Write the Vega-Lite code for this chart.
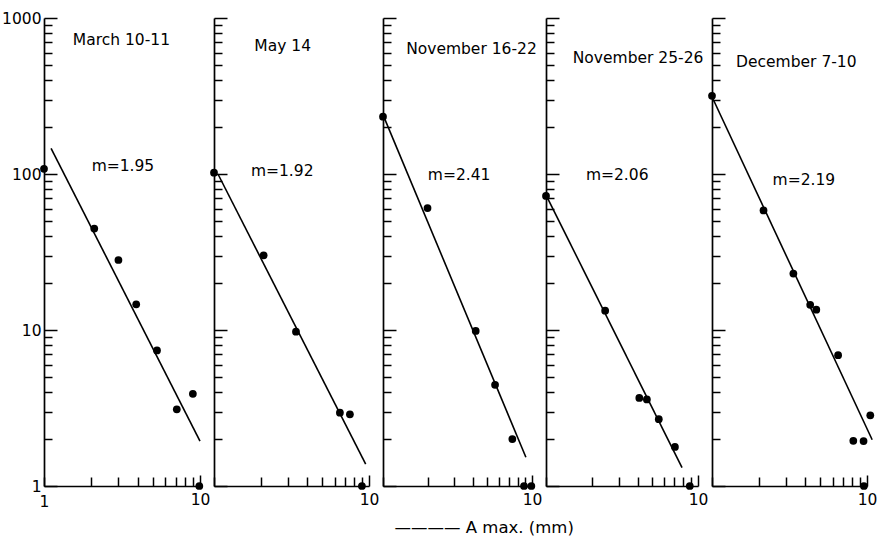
{
  "$schema": "https://vega.github.io/schema/vega-lite/v6.json",
  "background": "white",
  "padding": {"left": 1, "top": 11, "right": 5, "bottom": 6},
  "config": {
    "view": {"stroke": null},
    "font": "DejaVu Sans",
    "axis": {
      "domainColor": "black", "domainWidth": 1.7,
      "tickColor": "black", "tickWidth": 1.5,
      "grid": false,
      "labelFont": "DejaVu Sans", "labelFontSize": 15.5, "labelColor": "black",
      "labelFlush": false, "labelOverlap": false
    },
    "title": {"font": "DejaVu Sans", "fontSize": 16.5, "fontWeight": "normal", "color": "black"}
  },
  "title": {"text": "———— A max. (mm)", "orient": "bottom", "anchor": "middle", "dx": 45, "offset": 10},
  "spacing": 14,
  "bounds": "flush",
  "datasets": {
    "points": [
      {"panel": 1, "x": 1.0, "y": 108}, {"panel": 1, "x": 2.1, "y": 44.7}, {"panel": 1, "x": 3.0, "y": 28.1},
      {"panel": 1, "x": 3.9, "y": 14.6}, {"panel": 1, "x": 5.3, "y": 7.4}, {"panel": 1, "x": 7.1, "y": 3.1},
      {"panel": 1, "x": 9.0, "y": 3.9}, {"panel": 1, "x": 9.9, "y": 1},
      {"panel": 2, "x": 1.0, "y": 102}, {"panel": 2, "x": 2.09, "y": 30.1}, {"panel": 2, "x": 3.38, "y": 9.75},
      {"panel": 2, "x": 6.49, "y": 2.95}, {"panel": 2, "x": 7.53, "y": 2.88}, {"panel": 2, "x": 9.0, "y": 1},
      {"panel": 3, "x": 1.0, "y": 233}, {"panel": 3, "x": 1.99, "y": 60.5}, {"panel": 3, "x": 4.19, "y": 9.87},
      {"panel": 3, "x": 5.65, "y": 4.45}, {"panel": 3, "x": 7.38, "y": 2.0}, {"panel": 3, "x": 8.84, "y": 1},
      {"panel": 3, "x": 9.9, "y": 1},
      {"panel": 4, "x": 1.0, "y": 72.4}, {"panel": 4, "x": 2.45, "y": 13.3}, {"panel": 4, "x": 4.11, "y": 3.67},
      {"panel": 4, "x": 4.61, "y": 3.59}, {"panel": 4, "x": 5.52, "y": 2.68}, {"panel": 4, "x": 7.05, "y": 1.78},
      {"panel": 4, "x": 8.83, "y": 1},
      {"panel": 5, "x": 1.0, "y": 317}, {"panel": 5, "x": 2.15, "y": 58.4}, {"panel": 5, "x": 3.35, "y": 23.0},
      {"panel": 5, "x": 4.3, "y": 14.5}, {"panel": 5, "x": 4.71, "y": 13.5}, {"panel": 5, "x": 6.51, "y": 6.89},
      {"panel": 5, "x": 10.5, "y": 2.84}, {"panel": 5, "x": 8.16, "y": 1.95}, {"panel": 5, "x": 9.5, "y": 1.94},
      {"panel": 5, "x": 9.55, "y": 1}
    ],
    "lines": [
      {"panel": 1, "x": 1.11, "y": 146}, {"panel": 1, "x": 10.0, "y": 1.94},
      {"panel": 2, "x": 1.06, "y": 100}, {"panel": 2, "x": 9.52, "y": 1.38},
      {"panel": 3, "x": 1.03, "y": 224}, {"panel": 3, "x": 9.1, "y": 1.53},
      {"panel": 4, "x": 1.02, "y": 70.6}, {"panel": 4, "x": 7.85, "y": 1.31},
      {"panel": 5, "x": 1.01, "y": 306}, {"panel": 5, "x": 10.8, "y": 1.98}
    ],
    "labels": [
      {"panel": 1, "x": 1.53, "y": 718, "label": "March 10-11"},
      {"panel": 1, "x": 2.02, "y": 112, "label": "m=1.95"},
      {"panel": 2, "x": 1.82, "y": 657, "label": "May 14"},
      {"panel": 2, "x": 1.73, "y": 105, "label": "m=1.92"},
      {"panel": 3, "x": 1.43, "y": 629, "label": "November 16-22"},
      {"panel": 3, "x": 2.0, "y": 98, "label": "m=2.41"},
      {"panel": 4, "x": 1.5, "y": 557, "label": "November 25-26"},
      {"panel": 4, "x": 1.83, "y": 98, "label": "m=2.06"},
      {"panel": 5, "x": 1.43, "y": 521, "label": "December 7-10"},
      {"panel": 5, "x": 2.46, "y": 92, "label": "m=2.19"}
    ]
  },
  "hconcat": [
    {
      "width": 156, "height": 468,
      "encoding": {
        "x": {"field": "x", "type": "quantitative", "scale": {"type": "log", "domain": [1, 10], "nice": false},
          "axis": {"title": null, "values": [1,2,3,4,5,6,7,8,9,10],
            "labelExpr": "(datum.value == 1 || datum.value == 10) ? format(datum.value, 'd') : ''",
            "tickSize": {"condition": {"test": "datum.value == 10", "value": -11}, "value": -9},
            "labelPadding": 17}},
        "y": {"field": "y", "type": "quantitative", "scale": {"type": "log", "domain": [1, 1000], "nice": false},
          "axis": {"title": null, "values": [1,2,3,4,5,6,7,8,9,10,20,30,40,50,60,70,80,90,100,200,300,400,500,600,700,800,900,1000],
            "labelExpr": "(datum.value == 1 || datum.value == 10 || datum.value == 100 || datum.value == 1000) ? format(datum.value, 'd') : ''",
            "tickSize": {"condition": {"test": "datum.value == 1 || datum.value == 10 || datum.value == 100 || datum.value == 1000", "value": -13}, "value": -8},
            "labelPadding": 16}}
      },
      "layer": [
        {"data": {"name": "lines"}, "transform": [{"filter": "datum.panel == 1"}], "mark": {"type": "line", "color": "black", "strokeWidth": 1.6}},
        {"data": {"name": "points"}, "transform": [{"filter": "datum.panel == 1"}], "mark": {"type": "circle", "color": "black", "opacity": 1, "size": 60}},
        {"data": {"name": "labels"}, "transform": [{"filter": "datum.panel == 1"}], "mark": {"type": "text", "align": "left", "baseline": "middle", "fontSize": 15.5, "color": "black"}, "encoding": {"text": {"field": "label"}}}
      ]
    },
    {
      "width": 155, "height": 468,
      "encoding": {
        "x": {"field": "x", "type": "quantitative", "scale": {"type": "log", "domain": [1, 10], "nice": false},
          "axis": {"title": null, "values": [1,2,3,4,5,6,7,8,9,10],
            "labelExpr": "datum.value == 10 ? '10' : ''",
            "tickSize": {"condition": {"test": "datum.value == 10", "value": -11}, "value": -9},
            "labelPadding": 17}},
        "y": {"field": "y", "type": "quantitative", "scale": {"type": "log", "domain": [1, 1000], "nice": false},
          "axis": {"title": null, "labels": false, "values": [1,2,3,4,5,6,7,8,9,10,20,30,40,50,60,70,80,90,100,200,300,400,500,600,700,800,900,1000],
            "tickSize": {"condition": {"test": "datum.value == 1 || datum.value == 10 || datum.value == 100 || datum.value == 1000", "value": -13}, "value": -8}}}
      },
      "layer": [
        {"data": {"name": "lines"}, "transform": [{"filter": "datum.panel == 2"}], "mark": {"type": "line", "color": "black", "strokeWidth": 1.6}},
        {"data": {"name": "points"}, "transform": [{"filter": "datum.panel == 2"}], "mark": {"type": "circle", "color": "black", "opacity": 1, "size": 60}},
        {"data": {"name": "labels"}, "transform": [{"filter": "datum.panel == 2"}], "mark": {"type": "text", "align": "left", "baseline": "middle", "fontSize": 15.5, "color": "black"}, "encoding": {"text": {"field": "label"}}}
      ]
    },
    {
      "width": 149, "height": 468,
      "encoding": {
        "x": {"field": "x", "type": "quantitative", "scale": {"type": "log", "domain": [1, 10], "nice": false},
          "axis": {"title": null, "values": [1,2,3,4,5,6,7,8,9,10],
            "labelExpr": "datum.value == 10 ? '10' : ''",
            "tickSize": {"condition": {"test": "datum.value == 10", "value": -11}, "value": -9},
            "labelPadding": 17}},
        "y": {"field": "y", "type": "quantitative", "scale": {"type": "log", "domain": [1, 1000], "nice": false},
          "axis": {"title": null, "labels": false, "values": [1,2,3,4,5,6,7,8,9,10,20,30,40,50,60,70,80,90,100,200,300,400,500,600,700,800,900,1000],
            "tickSize": {"condition": {"test": "datum.value == 1 || datum.value == 10 || datum.value == 100 || datum.value == 1000", "value": -13}, "value": -8}}}
      },
      "layer": [
        {"data": {"name": "lines"}, "transform": [{"filter": "datum.panel == 3"}], "mark": {"type": "line", "color": "black", "strokeWidth": 1.6}},
        {"data": {"name": "points"}, "transform": [{"filter": "datum.panel == 3"}], "mark": {"type": "circle", "color": "black", "opacity": 1, "size": 60}},
        {"data": {"name": "labels"}, "transform": [{"filter": "datum.panel == 3"}], "mark": {"type": "text", "align": "left", "baseline": "middle", "fontSize": 15.5, "color": "black"}, "encoding": {"text": {"field": "label"}}}
      ]
    },
    {
      "width": 152, "height": 468,
      "encoding": {
        "x": {"field": "x", "type": "quantitative", "scale": {"type": "log", "domain": [1, 10], "nice": false},
          "axis": {"title": null, "values": [1,2,3,4,5,6,7,8,9,10],
            "labelExpr": "datum.value == 10 ? '10' : ''",
            "tickSize": {"condition": {"test": "datum.value == 10", "value": -11}, "value": -9},
            "labelPadding": 17}},
        "y": {"field": "y", "type": "quantitative", "scale": {"type": "log", "domain": [1, 1000], "nice": false},
          "axis": {"title": null, "labels": false, "values": [1,2,3,4,5,6,7,8,9,10,20,30,40,50,60,70,80,90,100,200,300,400,500,600,700,800,900,1000],
            "tickSize": {"condition": {"test": "datum.value == 1 || datum.value == 10 || datum.value == 100 || datum.value == 1000", "value": -13}, "value": -8}}}
      },
      "layer": [
        {"data": {"name": "lines"}, "transform": [{"filter": "datum.panel == 4"}], "mark": {"type": "line", "color": "black", "strokeWidth": 1.6}},
        {"data": {"name": "points"}, "transform": [{"filter": "datum.panel == 4"}], "mark": {"type": "circle", "color": "black", "opacity": 1, "size": 60}},
        {"data": {"name": "labels"}, "transform": [{"filter": "datum.panel == 4"}], "mark": {"type": "text", "align": "left", "baseline": "middle", "fontSize": 15.5, "color": "black"}, "encoding": {"text": {"field": "label"}}}
      ]
    },
    {
      "width": 155, "height": 468,
      "encoding": {
        "x": {"field": "x", "type": "quantitative", "scale": {"type": "log", "domain": [1, 10], "nice": false},
          "axis": {"title": null, "values": [1,2,3,4,5,6,7,8,9,10],
            "labelExpr": "datum.value == 10 ? '10' : ''",
            "tickSize": {"condition": {"test": "datum.value == 10", "value": -11}, "value": -9},
            "labelPadding": 17}},
        "y": {"field": "y", "type": "quantitative", "scale": {"type": "log", "domain": [1, 1000], "nice": false},
          "axis": {"title": null, "labels": false, "values": [1,2,3,4,5,6,7,8,9,10,20,30,40,50,60,70,80,90,100,200,300,400,500,600,700,800,900,1000],
            "tickSize": {"condition": {"test": "datum.value == 1 || datum.value == 10 || datum.value == 100 || datum.value == 1000", "value": -13}, "value": -8}}}
      },
      "layer": [
        {"data": {"name": "lines"}, "transform": [{"filter": "datum.panel == 5"}], "mark": {"type": "line", "color": "black", "strokeWidth": 1.6}},
        {"data": {"name": "points"}, "transform": [{"filter": "datum.panel == 5"}], "mark": {"type": "circle", "color": "black", "opacity": 1, "size": 60}},
        {"data": {"name": "labels"}, "transform": [{"filter": "datum.panel == 5"}], "mark": {"type": "text", "align": "left", "baseline": "middle", "fontSize": 15.5, "color": "black"}, "encoding": {"text": {"field": "label"}}}
      ]
    }
  ]
}
